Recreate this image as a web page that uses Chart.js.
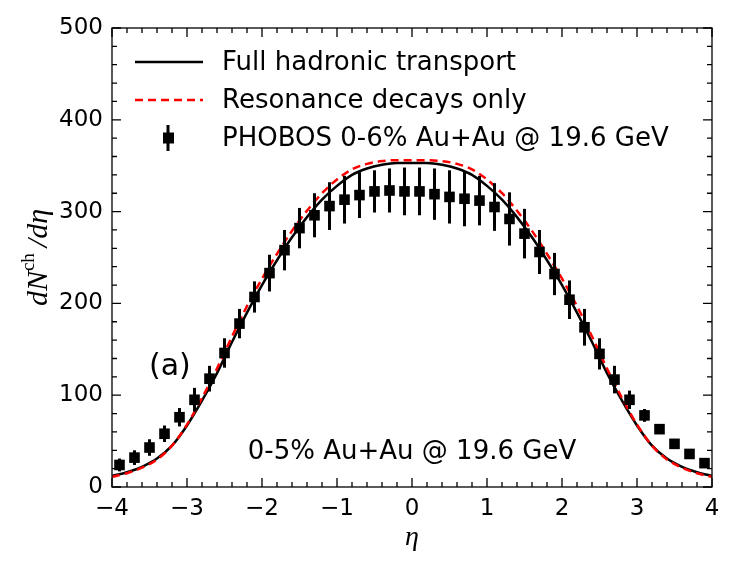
<!DOCTYPE html>
<html>
<head>
<meta charset="utf-8">
<script src="https://cdn.jsdelivr.net/npm/chart.js@4.4.1/dist/chart.umd.min.js"></script>
<style>
html, body { margin: 0; padding: 0; background: #fff; }
#wrap { width: 747px; height: 561px; }
</style>
</head>
<body>
<div id="wrap"><canvas id="chart" width="747" height="561"></canvas></div>
<script>
// curvas del modelo (paso 0.2 en eta)
var etaCurva = [-4.0, -3.8, -3.6, -3.4, -3.2, -3.0, -2.8, -2.6, -2.4, -2.2, -2.0,
    -1.8, -1.6, -1.4, -1.2, -1.0, -0.8, -0.6, -0.4, -0.2, 0.0,
    0.2, 0.4, 0.6, 0.8, 1.0, 1.2, 1.4, 1.6, 1.8, 2.0,
    2.2, 2.4, 2.6, 2.8, 3.0, 3.2, 3.4, 3.6, 3.8, 4.0];
var transporte = [12, 16, 22, 31, 45, 67, 94, 124, 158, 190, 220,
    247, 272, 294, 313, 328, 340, 347, 351, 353, 353,
    353, 351, 347, 340, 328, 313, 294, 272, 247, 220,
    190, 158, 124, 94, 67, 45, 31, 22, 16, 12];
var resonancias = [11, 15, 21, 30, 45, 68, 97, 129, 164, 197, 227,
    254, 279, 301, 320, 335, 346, 352, 355, 356, 356,
    356, 355, 352, 346, 335, 320, 301, 279, 254, 227,
    197, 164, 129, 97, 68, 45, 30, 21, 15, 11];

// datos PHOBOS
var etaDatos = [-3.9, -3.7, -3.5, -3.3, -3.1, -2.9, -2.7, -2.5, -2.3, -2.1,
    -1.9, -1.7, -1.5, -1.3, -1.1, -0.9, -0.7, -0.5, -0.3, -0.1,
    0.1, 0.3, 0.5, 0.7, 0.9, 1.1, 1.3, 1.5, 1.7, 1.9,
    2.1, 2.3, 2.5, 2.7, 2.9, 3.1, 3.3, 3.5, 3.7, 3.9];
var phobos = [24, 32, 43, 58, 76, 95, 118, 146, 178, 207,
    233, 258, 282, 296, 306, 313, 318, 322, 323, 322,
    322, 319, 316, 314, 312, 305, 292, 276, 256, 232,
    204, 174, 145, 117, 95, 78, 63, 47, 36, 26];
var errores = [7, 8, 9, 9, 10, 13, 14, 16, 16, 17,
    20, 22, 22, 24, 26, 26, 25, 23, 24, 26,
    26, 28, 29, 30, 27, 26, 29, 27, 24, 23,
    21, 20, 17, 15, 10, 7, 4, 4, 4, 4];

var ticksX = [-4, -3, -2, -1, 0, 1, 2, 3, 4];
var ticksY = [0, 100, 200, 300, 400, 500];

var fuente = "'DejaVu Sans', sans-serif";

function puntos(xs, ys) {
    var r = [];
    for (var i = 0; i < xs.length; i++) {
        r.push({ x: xs[i], y: ys[i] });
    }
    return r;
}

// barras de error, debajo de los marcadores
var barras = {
    id: 'barras',
    beforeDatasetDraw: function (chart, args) {
        if (args.index !== 2) return;
        var ctx = chart.ctx;
        var sx = chart.scales.x, sy = chart.scales.y;
        ctx.save();
        ctx.strokeStyle = '#000';
        ctx.lineWidth = 3;
        for (var i = 0; i < etaDatos.length; i++) {
            var px = sx.getPixelForValue(etaDatos[i]);
            ctx.beginPath();
            ctx.moveTo(px, sy.getPixelForValue(phobos[i] - errores[i]));
            ctx.lineTo(px, sy.getPixelForValue(phobos[i] + errores[i]));
            ctx.stroke();
        }
        ctx.restore();
    }
};

// marco, ticks hacia dentro, leyenda y textos
var marco = {
    id: 'marco',
    afterDraw: function (chart) {
        var ctx = chart.ctx;
        var a = chart.chartArea;
        var sx = chart.scales.x, sy = chart.scales.y;
        ctx.save();
        ctx.strokeStyle = '#000';
        ctx.lineWidth = 1.3;
        ctx.strokeRect(a.left, a.top, a.right - a.left, a.bottom - a.top);

        ctx.beginPath();
        var v, p, largo;
        for (v = -40; v <= 40; v += 2) {
            p = sx.getPixelForValue(v / 10);
            largo = (v % 10 === 0) ? 9 : 5;
            ctx.moveTo(p, a.bottom); ctx.lineTo(p, a.bottom - largo);
            ctx.moveTo(p, a.top); ctx.lineTo(p, a.top + largo);
        }
        for (v = 0; v <= 500; v += 20) {
            p = sy.getPixelForValue(v);
            largo = (v % 100 === 0) ? 9 : 5;
            ctx.moveTo(a.left, p); ctx.lineTo(a.left + largo, p);
            ctx.moveTo(a.right, p); ctx.lineTo(a.right - largo, p);
        }
        ctx.stroke();

        // leyenda
        var ds = chart.data.datasets;
        ctx.fillStyle = '#000';
        ctx.font = '26px ' + fuente;
        ctx.textBaseline = 'middle';
        ctx.textAlign = 'left';
        var filas = [62, 100, 138];
        ctx.lineWidth = 2.5;
        ctx.strokeStyle = '#000';
        ctx.setLineDash([]);
        ctx.beginPath(); ctx.moveTo(135, filas[0]); ctx.lineTo(203, filas[0]); ctx.stroke();
        ctx.strokeStyle = '#ff0000';
        ctx.setLineDash([8, 5]);
        ctx.beginPath(); ctx.moveTo(135, filas[1]); ctx.lineTo(203, filas[1]); ctx.stroke();
        ctx.setLineDash([]);
        ctx.strokeStyle = '#000';
        ctx.lineWidth = 3;
        ctx.beginPath(); ctx.moveTo(168, filas[2] - 13); ctx.lineTo(168, filas[2] + 13); ctx.stroke();
        ctx.fillRect(163, filas[2] - 5.5, 11, 11);
        for (var i = 0; i < 3; i++) {
            ctx.fillText(ds[i].label, 222, filas[i] + 1);
        }

        // anotaciones
        ctx.font = '26px ' + fuente;
        ctx.textAlign = 'center';
        ctx.fillText('0-5% Au+Au @ 19.6 GeV', sx.getPixelForValue(0), sy.getPixelForValue(38));
        ctx.font = '30px ' + fuente;
        ctx.textAlign = 'left';
        ctx.fillText('(a)', 149, sy.getPixelForValue(130));

        // titulo eje x
        ctx.font = 'italic 28px "Liberation Serif", serif';
        ctx.textAlign = 'center';
        ctx.fillText('\u03b7', sx.getPixelForValue(0), 538);

        // titulo eje y: dN^ch/dη
        ctx.translate(39, (a.top + a.bottom) / 2);
        ctx.rotate(-Math.PI / 2);
        var partes = [
            { t: 'dN', f: 'italic 30px "Liberation Serif", serif', dy: 0 },
            { t: 'ch', f: '19px "Liberation Serif", serif', dy: -10 },
            { t: '\u2009/d\u03b7', f: 'italic 30px "Liberation Serif", serif', dy: 0 }
        ];
        var total = 0;
        partes.forEach(function (q) { ctx.font = q.f; total += ctx.measureText(q.t).width; });
        var cx = -total / 2;
        ctx.textAlign = 'left';
        partes.forEach(function (q) {
            ctx.font = q.f;
            ctx.fillText(q.t, cx, q.dy);
            cx += ctx.measureText(q.t).width;
        });
        ctx.restore();
    }
};

var datos = {
    type: 'line',
    data: {
        datasets: [{
            label: 'Full hadronic transport',
            data: puntos(etaCurva, transporte),
            borderColor: '#000',
            borderWidth: 2.5,
            pointRadius: 0,
            fill: false,
            cubicInterpolationMode: 'monotone',
            order: 2
        }, {
            label: 'Resonance decays only',
            data: puntos(etaCurva, resonancias),
            borderColor: '#ff0000',
            borderWidth: 2.5,
            borderDash: [8, 5],
            pointRadius: 0,
            fill: false,
            cubicInterpolationMode: 'monotone',
            order: 1
        }, {
            label: 'PHOBOS 0-6% Au+Au @ 19.6 GeV',
            data: puntos(etaDatos, phobos),
            showLine: false,
            pointStyle: 'rect',
            pointRadius: 7.5,
            pointBorderWidth: 0,
            pointBackgroundColor: '#000',
            pointBorderColor: '#000',
            order: 0
        }]
    },
    options: {
        responsive: false,
        animation: false,
        devicePixelRatio: 1,
        layout: { padding: { top: 28, right: 35, left: 0, bottom: 0 } },
        plugins: {
            legend: { display: false },
            tooltip: { enabled: false },
            title: { display: false }
        },
        scales: {
            x: {
                type: 'linear',
                min: -4, max: 4,
                afterBuildTicks: function (s) { s.ticks = ticksX.map(function (v) { return { value: v }; }); },
                afterFit: function (s) { s.height = 74; },
                grid: { display: false, drawTicks: false },
                border: { display: false },
                ticks: {
                    padding: 8,
                    color: '#000',
                    font: { family: fuente, size: 23 },
                    callback: function (v) { return String(v).replace('-', '\u2212'); }
                }
            },
            y: {
                min: 0, max: 500,
                afterBuildTicks: function (s) { s.ticks = ticksY.map(function (v) { return { value: v }; }); },
                afterFit: function (s) { s.width = 112; },
                grid: { display: false, drawTicks: false },
                border: { display: false },
                ticks: {
                    padding: 9,
                    color: '#000',
                    font: { family: fuente, size: 23 }
                }
            }
        }
    },
    plugins: [barras, marco]
};

var canvas = document.getElementById('chart').getContext('2d');
window.grafico = new Chart(canvas, datos);
</script>
</body>
</html>
